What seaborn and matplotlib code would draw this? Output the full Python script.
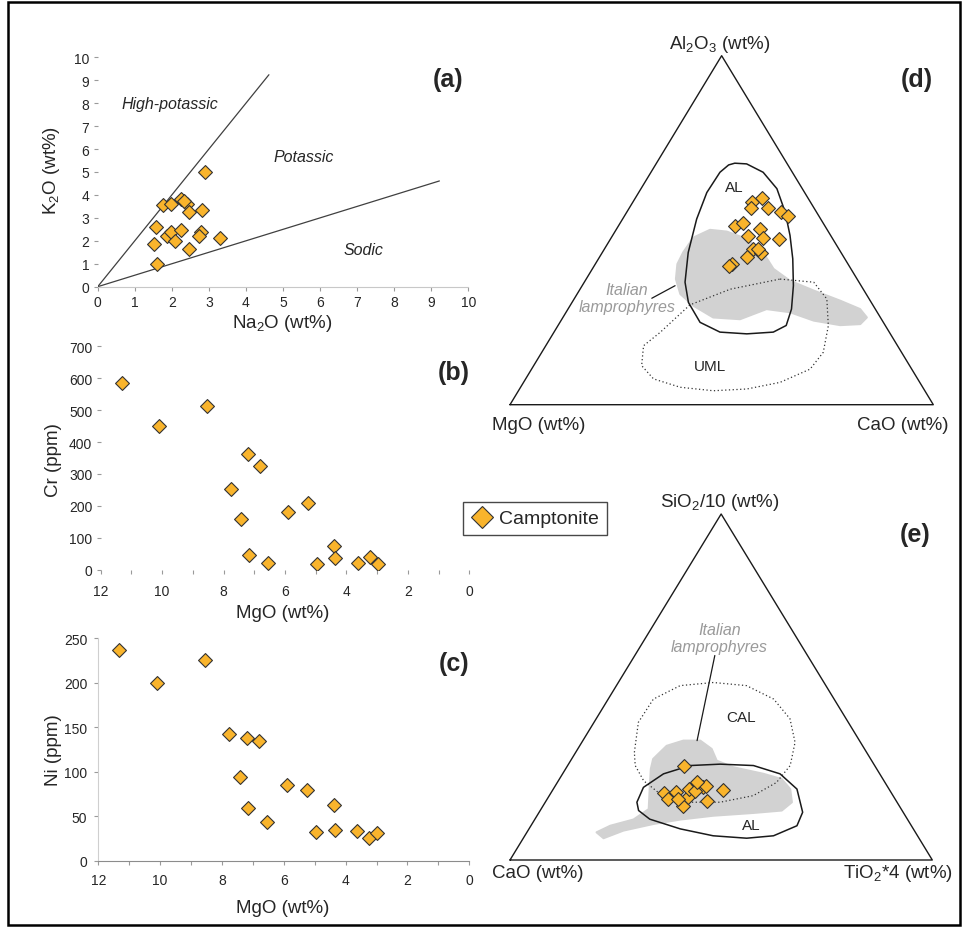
import numpy as np
import pandas as pd
import matplotlib
matplotlib.use("Agg")
import matplotlib.pyplot as plt
import seaborn as sns
from matplotlib.lines import Line2D
from matplotlib.patches import Polygon, Rectangle

# ---------------- data ----------------
# (a) K2O vs Na2O
na2o_a = [2.90, 1.77, 1.98, 2.25, 2.40, 2.46, 2.81, 1.56, 1.53, 1.59, 1.88, 1.98, 2.09, 2.25, 2.47, 2.78, 2.74, 3.30, 2.32]
k2o_a = [4.99, 3.58, 3.62, 3.82, 3.62, 3.24, 3.36, 2.62, 1.85, 0.99, 2.22, 2.37, 1.99, 2.47, 1.63, 2.37, 2.22, 2.12, 3.72]
# discrimination lines K2O/Na2O = 2 and 0.5
line_na2o_hk = [0.0, 4.62]
line_k2o_hk = [0.0, 9.24]
line_na2o_ps = [0.0, 9.22]
line_k2o_ps = [0.0, 4.61]

# (b), (c) Cr and Ni vs MgO
mgo_bc = [11.32, 10.10, 8.54, 7.76, 7.19, 6.81, 7.42, 7.16, 6.54, 5.89, 5.25, 4.39, 4.36, 4.95, 3.62, 3.24, 2.98]
cr_b = [584, 449, 514, 253, 363, 326, 159, 46, 21, 182, 210, 75, 36, 18, 21, 41, 18]
ni_c = [237, 200, 226, 142, 138, 134, 94, 59, 43, 85, 79, 63, 34, 32, 33, 26, 31]

# (d) Al2O3 - MgO - CaO ternary (normalised %)
al2o3_d = [59.1, 58.0, 56.3, 56.3, 55.1, 54.1, 51.3, 52.1, 50.3, 48.4, 47.9, 47.5, 44.6, 43.6, 44.6, 40.3, 39.8, 42.2]
mgo_d = [11.0, 13.9, 14.9, 10.9, 8.5, 7.2, 21.2, 18.9, 15.9, 19.5, 16.3, 12.8, 20.2, 18.8, 19.0, 27.5, 28.3, 22.8]
cao_d = [29.9, 28.1, 28.8, 32.8, 36.4, 38.7, 27.5, 29.0, 33.8, 32.1, 35.8, 39.7, 35.2, 37.6, 36.4, 32.2, 31.9, 35.0]

# (e) SiO2/10 - CaO - TiO2*4 ternary (normalised %)
sio2_e = [27.3, 19.3, 17.6, 19.6, 15.7, 18.1, 20.5, 22.0, 21.0, 21.5, 20.0, 17.0, 20.2, 17.6, 22.6]
cao_e = [45.1, 53.9, 53.7, 50.8, 51.1, 48.8, 47.3, 44.4, 43.7, 42.8, 46.2, 44.9, 39.4, 51.4, 44.5]
tio2_e = [27.6, 26.8, 28.7, 29.6, 33.2, 33.1, 32.2, 33.6, 35.3, 35.7, 33.8, 38.1, 40.4, 31.0, 32.9]

# reference fields: (top %, right %) ; left = 100 - top - right
d_al_top = [69.2, 69.0, 66.6, 61.9, 55.2, 48.5, 41.8, 34.1, 27.4, 22.7, 20.8, 20.3, 20.8, 23.6, 29.3, 35.1, 43.6, 53.2, 60.8, 66.6, 68.7]
d_al_right = [18.5, 21.4, 26.5, 32.1, 37.4, 41.9, 45.9, 49.9, 52.8, 53.9, 51.8, 45.8, 39.2, 33.1, 27.5, 23.8, 20.3, 17.5, 16.1, 16.3, 17.3]
d_uml_top = [36.0, 35.1, 30.3, 22.6, 15.0, 10.2, 6.4, 4.5, 4.0, 5.0, 7.4, 11.2, 16.9, 20.7, 28.6, 33.1]
d_uml_right = [45.8, 54.2, 59.7, 63.9, 66.5, 65.8, 60.6, 53.7, 46.0, 37.7, 30.2, 25.5, 23.1, 25.1, 28.2, 35.5]
d_ital_top = [43.7, 47.9, 50.1, 49.6, 47.5, 43.6, 38.9, 35.5, 32.7, 29.8, 27.4, 25.0, 23.1, 22.8, 24.1, 26.5, 27.4, 24.5, 25.0, 28.4, 31.7, 36.0, 40.3]
d_ital_right = [19.1, 19.4, 22.2, 26.4, 32.2, 38.0, 42.8, 48.4, 55.4, 63.1, 69.0, 71.8, 71.2, 66.6, 59.7, 52.9, 46.9, 42.1, 35.5, 29.1, 24.4, 21.2, 19.4]

e_cal_top = [31.1, 39.8, 46.5, 50.4, 51.3, 50.4, 46.5, 40.8, 34.0, 27.3, 22.4, 18.6, 16.7, 16.7, 19.1, 22.9, 27.3]
e_cal_right = [13.9, 10.5, 10.7, 15.1, 22.5, 30.8, 39.2, 45.9, 50.5, 52.7, 51.9, 48.3, 41.4, 33.5, 26.0, 20.2, 16.0]
e_al_top = [16.7, 21.0, 24.9, 27.3, 27.7, 27.3, 24.9, 20.5, 13.8, 9.9, 7.0, 6.3, 7.0, 9.0, 11.8, 14.3]
e_al_right = [21.7, 21.1, 23.9, 29.0, 35.9, 44.0, 51.5, 57.7, 62.4, 63.0, 58.9, 52.9, 44.6, 35.8, 27.2, 23.3]
e_ital_top = [29.2, 33.0, 34.5, 34.5, 32.1, 28.7, 26.8, 24.9, 23.4, 20.5, 16.7, 14.3, 13.6, 12.8, 11.7, 10.4, 8.5, 6.3, 8.0, 9.9, 11.7, 14.7, 21.0, 26.3]
e_ital_right = [19.3, 20.6, 23.8, 27.8, 31.7, 34.6, 39.5, 47.6, 52.6, 56.1, 58.4, 57.2, 50.8, 41.7, 34.5, 28.7, 22.6, 19.0, 16.5, 18.8, 23.4, 25.5, 22.6, 20.2]

# ---------------- style ----------------
sns.set_style("white")
plt.rcParams["font.family"] = ["Liberation Sans", "DejaVu Sans"]
plt.rcParams["mathtext.fontset"] = "custom"
plt.rcParams["mathtext.rm"] = "Liberation Sans"
plt.rcParams["mathtext.it"] = "Liberation Sans:italic"

FILL = "#F9B42C"
EDGE = "#333333"
GREY_FIELD = "#D2D2D2"
TXT = "#262626"
TICKC = "#9a9a9a"
MS = 50
LAB = 13.5

W, H = 964, 928
fig = plt.figure(figsize=(W / 100, H / 100), dpi=100)


def px_axes(x0, y0, x1, y1):
    return fig.add_axes([x0 / W, 1 - y1 / H, (x1 - x0) / W, (y1 - y0) / H])


def style_xy(ax):
    ax.tick_params(axis="both", which="both", direction="out", length=3, width=0.8,
                   color=TICKC, labelsize=10, labelcolor=TXT, pad=3,
                   bottom=True, left=True)
    ax.set_facecolor("none")


def scatter(ax, x, y):
    sns.scatterplot(x=x, y=y, ax=ax, marker="D", s=MS, color=FILL, edgecolor=EDGE,
                    linewidth=0.8, zorder=5, legend=False)


# ---------------- (a) ----------------
ax_a = px_axes(97.7, 58.3, 468.3, 287.7)
scatter(ax_a, na2o_a, k2o_a)
ax_a.plot(line_na2o_hk, line_k2o_hk, color="#404040", lw=0.9, zorder=2)
ax_a.plot(line_na2o_ps, line_k2o_ps, color="#404040", lw=0.9, zorder=2)
ax_a.set_xlim(0, 10)
ax_a.set_ylim(0, 10)
ax_a.set_xticks(range(0, 11))
ax_a.set_yticks(range(0, 11))
for s in ["top", "right", "left"]:
    ax_a.spines[s].set_visible(False)
ax_a.spines["bottom"].set_color("#c8c8c8")
style_xy(ax_a)
ax_a.set_xlabel(r"Na$_2$O (wt%)", fontsize=LAB, color=TXT)
ax_a.set_ylabel(r"K$_2$O (wt%)", fontsize=LAB, color=TXT)
ax_a.xaxis.set_label_coords(0.497, -0.11)
ax_a.yaxis.set_label_coords(-0.096, 0.513)
ax_a.text(1.95, 7.97, "High-potassic", style="italic", fontsize=11.5, color=TXT, ha="center", va="center")
ax_a.text(5.55, 5.68, "Potassic", style="italic", fontsize=11.5, color=TXT, ha="center", va="center")
ax_a.text(7.17, 1.64, "Sodic", style="italic", fontsize=11.5, color=TXT, ha="center", va="center")
ax_a.text(9.46, 9.06, "(a)", fontsize=18, fontweight="bold", color=TXT, ha="center", va="center")

# ---------------- (b) ----------------
ax_b = px_axes(100.7, 347.3, 469.3, 570.7)
scatter(ax_b, mgo_bc, cr_b)
ax_b.set_xlim(12, 0)
ax_b.set_ylim(0, 700)
ax_b.set_xticks(range(0, 13, 2))
ax_b.set_xticks(range(1, 12, 2), minor=True)
ax_b.set_yticks(range(0, 701, 100))
for s in ["top", "right", "left", "bottom"]:
    ax_b.spines[s].set_visible(False)
style_xy(ax_b)
ax_b.tick_params(axis="x", pad=7)
ax_b.set_xlabel("MgO (wt%)", fontsize=LAB, color=TXT)
ax_b.set_ylabel("Cr (ppm)", fontsize=LAB, color=TXT)
ax_b.xaxis.set_label_coords(0.495, -0.154)
ax_b.yaxis.set_label_coords(-0.105, 0.496)
ax_b.text(0.5, 618, "(b)", fontsize=18, fontweight="bold", color=TXT, ha="center", va="center")

# ---------------- (c) ----------------
ax_c = px_axes(98.3, 639.3, 469.3, 861.7)
scatter(ax_c, mgo_bc, ni_c)
ax_c.set_xlim(12, 0)
ax_c.set_ylim(0, 250)
ax_c.set_xticks(range(0, 13, 2))
ax_c.set_xticks(range(1, 12, 2), minor=True)
ax_c.set_yticks(range(0, 251, 50))
for s in ["top", "right"]:
    ax_c.spines[s].set_visible(False)
ax_c.spines["left"].set_color("#cfcfcf")
ax_c.spines["bottom"].set_color("#8c8c8c")
style_xy(ax_c)
ax_c.tick_params(axis="x", pad=6)
ax_c.tick_params(axis="y", pad=5)
ax_c.set_xlabel("MgO (wt%)", fontsize=LAB, color=TXT)
ax_c.set_ylabel("Ni (ppm)", fontsize=LAB, color=TXT)
ax_c.xaxis.set_label_coords(0.498, -0.172)
ax_c.yaxis.set_label_coords(-0.098, 0.502)
ax_c.text(0.5, 222, "(c)", fontsize=18, fontweight="bold", color=TXT, ha="center", va="center")


# ---------------- ternary helpers ----------------
def tern_xy(top, left, right):
    top = np.asarray(top, float)
    left = np.asarray(left, float)
    right = np.asarray(right, float)
    s = top + left + right
    t = top / s
    r = right / s
    return r + 0.5 * t, t


def field_xy(top, right):
    top = np.asarray(top, float)
    right = np.asarray(right, float)
    return tern_xy(top, 100.0 - top - right, right)


def tern_axes(tri_px, box_px):
    x0, x1, yb, ya = tri_px
    bx0, by0, bx1, by1 = box_px
    ax = px_axes(bx0, by0, bx1, by1)
    ax.set_xlim((bx0 - x0) / (x1 - x0), (bx1 - x0) / (x1 - x0))
    ax.set_ylim((yb - by1) / (yb - ya), (yb - by0) / (yb - ya))
    ax.set_axis_off()
    ax.plot([0, 1, 0.5, 0], [0, 0, 1, 0], color="#1a1a1a", lw=1.0, zorder=3, clip_on=False)
    return ax


def add_field(ax, top, right, **kw):
    fx, fy = field_xy(top, right)
    ax.add_patch(Polygon(np.column_stack([fx, fy]), closed=True, joinstyle="round", **kw))


# ---------------- (d) ----------------
ax_d = tern_axes((510, 933.3, 405.7, 56.7), (490, 30, 960, 440))
add_field(ax_d, d_ital_top, d_ital_right, facecolor=GREY_FIELD, edgecolor=GREY_FIELD, lw=1.5, zorder=1)
add_field(ax_d, d_uml_top, d_uml_right, facecolor="none", edgecolor="#333333",
          lw=0.9, linestyle=(0, (1, 2)), zorder=2)
add_field(ax_d, d_al_top, d_al_right, facecolor="none", edgecolor="#1a1a1a", lw=1.1, zorder=2)
dx, dy = tern_xy(al2o3_d, mgo_d, cao_d)
scatter(ax_d, dx, dy)
ax_d.plot([0.335, 0.390], [0.305, 0.341], color="#1a1a1a", lw=0.9, zorder=2)
ax_d.text(0.276, 0.305, "Italian\nlamprophyres", style="italic", fontsize=11.5, color="#9a9a9a",
          ha="center", va="center", linespacing=1.2)
ax_d.text(0.531, 0.623, "AL", fontsize=11, color=TXT, ha="center", va="center")
ax_d.text(0.472, 0.112, "UML", fontsize=11, color=TXT, ha="center", va="center")
ax_d.text(0.495, 1.034, r"Al$_2$O$_3$ (wt%)", fontsize=LAB, color=TXT, ha="center", va="center")
ax_d.text(0.067, -0.056, "MgO (wt%)", fontsize=LAB, color=TXT, ha="center", va="center")
ax_d.text(0.929, -0.056, "CaO (wt%)", fontsize=LAB, color=TXT, ha="center", va="center")
ax_d.text(0.961, 0.933, "(d)", fontsize=18, fontweight="bold", color=TXT, ha="center", va="center")

# ---------------- (e) ----------------
ax_e = tern_axes((510, 932.3, 861, 515), (490, 480, 960, 900))
add_field(ax_e, e_ital_top, e_ital_right, facecolor=GREY_FIELD, edgecolor=GREY_FIELD, lw=1.5, zorder=1)
add_field(ax_e, e_cal_top, e_cal_right, facecolor="none", edgecolor="#333333",
          lw=0.9, linestyle=(0, (1, 2)), zorder=2)
add_field(ax_e, e_al_top, e_al_right, facecolor="none", edgecolor="#1a1a1a", lw=1.1, zorder=2)
ex, ey = tern_xy(sio2_e, cao_e, tio2_e)
scatter(ax_e, ex, ey)
ax_e.plot([0.485, 0.443], [0.591, 0.345], color="#1a1a1a", lw=0.9, zorder=2)
ax_e.text(0.496, 0.641, "Italian\nlamprophyres", style="italic", fontsize=11.5, color="#9a9a9a",
          ha="center", va="center", linespacing=1.2)
ax_e.text(0.547, 0.412, "CAL", fontsize=11, color=TXT, ha="center", va="center")
ax_e.text(0.572, 0.102, "AL", fontsize=11, color=TXT, ha="center", va="center")
ax_e.text(0.497, 1.036, r"SiO$_2$/10 (wt%)", fontsize=LAB, color=TXT, ha="center", va="center")
ax_e.text(0.066, -0.035, "CaO (wt%)", fontsize=LAB, color=TXT, ha="center", va="center")
ax_e.text(0.919, -0.035, r"TiO$_2$*4 (wt%)", fontsize=LAB, color=TXT, ha="center", va="center")
ax_e.text(0.959, 0.942, "(e)", fontsize=18, fontweight="bold", color=TXT, ha="center", va="center")

# ---------------- legend ----------------
handle = Line2D([], [], marker="D", linestyle="none", markersize=11.5, markerfacecolor=FILL,
                markeredgecolor=EDGE, markeredgewidth=0.8)
leg = fig.legend(handles=[handle], labels=["Camptonite"], loc="center",
                 bbox_to_anchor=(535 / W, 1 - 519.5 / H), frameon=True, fancybox=False,
                 edgecolor="#1a1a1a", fontsize=14, handletextpad=0.35, borderpad=0.4,
                 handlelength=1.1, borderaxespad=0)
leg.get_frame().set_linewidth(1.0)
for t in leg.get_texts():
    t.set_color(TXT)

# ---------------- outer frame ----------------
fig.patches.append(Rectangle((8 / W, 1 - 926 / H), (960 - 8) / W, (926 - 3) / H,
                             transform=fig.transFigure, fill=False, lw=1.8, ec="black"))

fig.savefig("out.png", dpi=100)
